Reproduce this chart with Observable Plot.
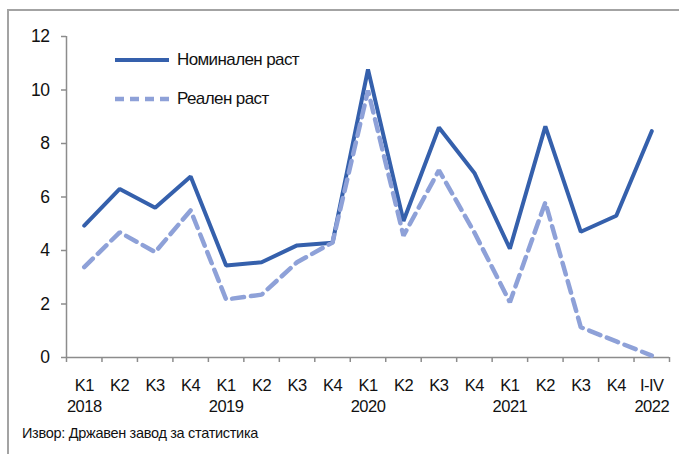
<!DOCTYPE html>
<html>
<head>
<meta charset="utf-8">
<script src="https://cdn.jsdelivr.net/npm/d3@7"></script>
<script src="https://cdn.jsdelivr.net/npm/@observablehq/plot@0.6"></script>
<style>
  html, body { margin: 0; padding: 0; background: #fff; overflow: hidden; }
  #wrap { position: relative; width: 679px; height: 454px; font-family: "Liberation Sans", Arial, sans-serif; color: #111; }
  #frame { position: absolute; left: 7px; top: 9px; width: 700px; height: 500px; border-top: 2px solid #a3a3a3; border-left: 2px solid #a3a3a3; }
  #chart { position: absolute; left: 0; top: 0; }
  .leg { position: absolute; left: 114px; display: flex; align-items: center; font-size: 17px; letter-spacing: -0.6px; }
  .leg svg { margin-right: 7px; }
  #caption { position: absolute; left: 22px; top: 425px; font-size: 14.5px; letter-spacing: -0.3px; }
</style>
</head>
<body>
<div id="wrap">
  <div id="frame"></div>
  <div id="chart"></div>
  <div class="leg" style="top:50px"><svg width="56" height="10"><line x1="1" x2="55" y1="5" y2="5" stroke="#3560ac" stroke-width="4"/></svg><span>Номинален раст</span></div>
  <div class="leg" style="top:89px"><svg width="56" height="10"><line x1="1" x2="55" y1="5" y2="5" stroke="#8ea1d8" stroke-width="4.5" stroke-dasharray="9,6"/></svg><span>Реален раст</span></div>
  <div id="caption">Извор: Државен завод за статистика</div>
</div>
<script>
const quarters = ["K1","K2","K3","K4","K1","K2","K3","K4","K1","K2","K3","K4","K1","K2","K3","K4","I-IV"];
const years    = ["2018","","","","2019","","","","2020","","","","2021","","","","2022"];
const nominal  = [4.93, 6.3, 5.6, 6.77, 3.44, 3.56, 4.19, 4.29, 10.77, 5.1, 8.6, 6.9, 4.07, 8.64, 4.7, 5.3, 8.46];
const real     = [3.38, 4.68, 3.94, 5.5, 2.17, 2.35, 3.56, 4.3, 9.98, 4.55, 7.0, 4.67, 2.07, 5.8, 1.13, 0.6, 0.07];
const yTicks   = [0, 2, 4, 6, 8, 10, 12];

const data = quarters.map((q, i) => ({i, q, year: years[i], nom: nominal[i], real: real[i]}));
const idx = data.map(d => d.i);
const bounds = d3.range(quarters.length + 1).map(k => k - 0.5);
const axisColor = "#8c8c8c";

const chart = Plot.plot({
  width: 679,
  height: 420,
  marginLeft: 66,
  marginRight: 10,
  marginTop: 36,
  marginBottom: 63,
  style: {fontFamily: "'Liberation Sans', Arial, sans-serif", fontSize: "16.5px", color: "#111", background: "transparent", letterSpacing: "-0.5px"},
  x: {type: "linear", domain: [-0.5, quarters.length - 0.5]},
  y: {domain: [0, 12]},
  marks: [
    Plot.axisY({ticks: yTicks, tickSize: 5, tickPadding: 12, stroke: axisColor, strokeWidth: 1.5, fontSize: "17.5px", label: null}),
    Plot.axisX({ticks: bounds, tickSize: 5, tickFormat: () => "", stroke: axisColor, strokeWidth: 1.5, label: null}),
    Plot.axisX({ticks: idx, tickSize: 0, tickPadding: 19, tickFormat: i => years[i] ? quarters[i] + "\n" + years[i] : quarters[i], lineHeight: 1.27, label: null}),
    Plot.ruleX([-0.5], {stroke: axisColor, strokeWidth: 1.5}),
    Plot.ruleY([0], {stroke: axisColor, strokeWidth: 1.5}),
    Plot.line(data, {x: "i", y: "nom", stroke: "#3560ac", strokeWidth: 4, strokeLinejoin: "miter"}),
    Plot.line(data, {x: "i", y: "real", stroke: "#8ea1d8", strokeWidth: 4.5, strokeDasharray: "12,7", strokeLinejoin: "miter"})
  ]
});
document.getElementById("chart").appendChild(chart);
</script>
</body>
</html>
